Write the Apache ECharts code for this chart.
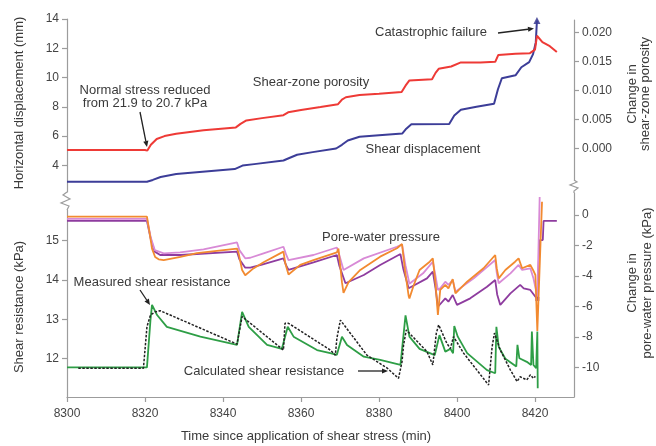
<!DOCTYPE html>
<html><head><meta charset="utf-8">
<script src="https://cdn.jsdelivr.net/npm/echarts@6/dist/echarts.min.js"></script>
<style>html,body{margin:0;padding:0;background:#fff}#c{width:656px;height:446px}</style>
</head><body><div id="c"></div>
<script>
// ---- tick labels ----
const timeTicks = [8300, 8320, 8340, 8360, 8380, 8400, 8420];
const dispTicks = [4, 6, 8, 10, 12, 14];
const porosityTicks = [0, 0.005, 0.010, 0.015, 0.020];
const shearTicks = [12, 13, 14, 15];
const poreTicks = [0, -2, -4, -6, -8, -10];

// ---- series values [time (min), value] ----
const shearDisplacement = [[8300,2.88],[8320.5,2.88],[8322,3.0],[8324,3.2],[8328,3.4],[8334,3.55],[8343,3.74],[8345,3.98],[8348,4.08],[8355.5,4.33],[8357,4.5],[8359,4.72],[8363,4.9],[8369,5.15],[8370.5,5.4],[8372,5.7],[8375,5.95],[8380,6.06],[8386,6.18],[8387,6.5],[8388.3,6.8],[8398,6.82],[8399.3,7.4],[8401,7.8],[8405,8.0],[8409.5,8.2],[8410.5,9.2],[8411.5,9.95],[8415,10.15],[8416.5,10.7],[8418.5,11.05],[8419.5,11.6],[8420.2,12.4],[8420.5,13.9]];

const porosity = [[8300,-0.0003],[8320,-0.0003],[8320.6,-0.0004],[8321.5,0.0006],[8323,0.0016],[8325,0.0021],[8328,0.0025],[8335,0.0031],[8343.3,0.0036],[8344.5,0.0042],[8346,0.0048],[8350,0.0052],[8355.5,0.0057],[8356.7,0.0062],[8360,0.0066],[8365,0.0071],[8369.5,0.0076],[8370.5,0.0084],[8371.5,0.0088],[8375,0.0092],[8380,0.0094],[8385.8,0.0097],[8386.8,0.0108],[8387.8,0.0117],[8393.6,0.0119],[8394.5,0.0130],[8395.3,0.0137],[8398.5,0.0141],[8401,0.0148],[8406,0.0148],[8409.8,0.0149],[8410.6,0.0161],[8415,0.0163],[8418.7,0.0164],[8420,0.0170],[8420.5,0.0194],[8421.9,0.0183],[8423.8,0.0176],[8425.6,0.0166]];

const poreOrange = [[8300,-0.11],[8320.5,-0.11],[8321.2,-1.2],[8321.8,-2.2],[8322.6,-2.75],[8323.5,-2.9],[8324.8,-2.95],[8329.1,-2.75],[8333.3,-2.5],[8343.6,-2.2],[8344.0,-2.5],[8344.9,-3.6],[8345.7,-3.95],[8346.2,-3.98],[8347.8,-3.5],[8350.4,-3.1],[8355.5,-2.4],[8356.0,-3.2],[8356.8,-3.9],[8359.8,-3.27],[8363.2,-2.95],[8369.2,-2.45],[8369.6,-2.2],[8370.5,-4.4],[8370.9,-5.1],[8372.2,-4.4],[8375.2,-3.6],[8380.3,-2.73],[8384.6,-2.18],[8385.9,-1.9],[8386.7,-3.7],[8387.6,-5.3],[8387.8,-5.46],[8388.9,-4.6],[8390.4,-3.6],[8393.0,-3.06],[8393.8,-2.84],[8394.5,-4.5],[8395.1,-6.55],[8395.7,-4.91],[8397.0,-4.58],[8397.8,-4.8],[8398.9,-4.2],[8399.6,-5.13],[8402.6,-4.37],[8406.8,-3.49],[8409.8,-2.62],[8410.2,-3.5],[8410.7,-4.15],[8412.4,-3.6],[8414.9,-3.06],[8415.8,-2.84],[8416.7,-3.49],[8418.8,-3.27],[8419.5,-3.6],[8420.1,-3.93],[8420.6,-7.6],[8421.8,0.87]];

const porePink = [[8300,-0.26],[8320.5,-0.26],[8321.5,-1.5],[8322.5,-2.3],[8324.8,-2.51],[8329,-2.45],[8335,-2.25],[8343.6,-1.8],[8344.2,-2.3],[8345.7,-2.84],[8347,-2.8],[8350.4,-2.51],[8355.5,-2.08],[8356.2,-2.6],[8356.8,-2.95],[8363.2,-2.62],[8369.2,-2.13],[8369.8,-2.6],[8370.9,-3.6],[8376.1,-2.84],[8384.6,-2.08],[8385.9,-1.93],[8386.8,-3.3],[8387.8,-4.5],[8391.3,-3.82],[8393.8,-3.06],[8394.5,-4.0],[8395.1,-4.91],[8395.7,-4.8],[8397.0,-4.37],[8397.8,-4.58],[8398.9,-4.26],[8399.6,-5.02],[8404.3,-4.15],[8409.8,-2.95],[8410.2,-3.8],[8410.7,-4.47],[8413.7,-3.82],[8415.8,-3.27],[8416.7,-3.6],[8418.8,-3.49],[8419.6,-4.15],[8420.1,-4.26],[8420.6,-5.35],[8421.2,1.18]];

const porePurple = [[8300,-0.39],[8320.5,-0.39],[8321.5,-1.6],[8322.5,-2.4],[8323.9,-2.62],[8329.1,-2.62],[8343.6,-2.4],[8344.2,-2.9],[8345.7,-3.45],[8347,-3.45],[8350,-3.25],[8355.5,-2.84],[8356.2,-3.3],[8356.8,-3.6],[8363.2,-3.10],[8369.2,-2.62],[8369.8,-3.3],[8371.4,-4.47],[8376.1,-3.93],[8380.3,-3.27],[8385.5,-2.56],[8386.2,-3.5],[8387.6,-4.8],[8387.8,-4.91],[8392.3,-4.15],[8393.8,-3.71],[8394.5,-4.8],[8395.1,-6.01],[8397.0,-5.46],[8397.8,-5.68],[8398.9,-5.24],[8400.0,-5.89],[8403.4,-5.46],[8407.7,-4.70],[8409.8,-4.26],[8410.3,-5.2],[8411.1,-5.89],[8413.7,-5.13],[8416.2,-4.58],[8417.1,-4.80],[8418.8,-4.91],[8420.1,-5.35],[8420.6,-5.5],[8421.2,-1.64],[8422.0,-1.64],[8422.2,-0.39],[8425.6,-0.39]];

const measuredShear = [[8300,11.78],[8320.5,11.78],[8321.4,12.98],[8321.8,13.37],[8323.1,13.11],[8325.6,12.81],[8334.2,12.56],[8343.6,12.35],[8344.0,12.32],[8344.9,13.19],[8346.6,12.81],[8351.3,12.35],[8355.1,12.25],[8355.5,12.22],[8356.6,12.81],[8358.1,12.56],[8364.1,12.22],[8367.5,12.14],[8369.2,12.1],[8370.5,12.56],[8371.8,12.35],[8376.1,12.05],[8380.3,11.97],[8385.5,11.84],[8386.8,13.1],[8387.8,12.56],[8390.4,12.25],[8394.3,12.09],[8395.5,12.6],[8397.0,12.18],[8398.3,12.25],[8399.0,12.14],[8399.3,12.83],[8400.2,12.56],[8402.6,12.14],[8407.7,11.71],[8409.8,11.63],[8410.1,12.81],[8410.7,12.3],[8412.4,12.0],[8415.2,11.8],[8415.5,12.35],[8416.0,12.01],[8417.9,11.92],[8419.0,11.84],[8419.2,12.69],[8419.6,11.84],[8420.3,11.76],[8420.6,12.69],[8420.7,11.25]];

const calculatedShear = [[8302.9,11.76],[8319.6,11.76],[8320.5,12.81],[8321.4,13.11],[8322.6,13.19],[8323.9,13.22],[8343.6,12.37],[8344.2,12.7],[8344.9,13.07],[8355.5,12.22],[8355.9,12.9],[8356.8,12.9],[8367.5,12.22],[8368.8,12.09],[8369.2,12.52],[8370.1,12.98],[8376.9,12.09],[8382.1,11.76],[8385.0,11.5],[8385.9,11.92],[8386.3,12.35],[8387.0,12.73],[8392.3,12.18],[8393.8,11.84],[8394.7,12.65],[8395.3,12.86],[8397.4,12.39],[8398.3,12.26],[8399.1,12.56],[8401.7,12.14],[8405.1,11.71],[8408.1,11.33],[8409.0,12.3],[8409.6,12.65],[8411.1,12.22],[8413.7,11.71],[8415.4,11.42],[8416.2,11.54],[8417.9,11.46],[8418.8,11.59],[8419.6,11.5],[8420.1,11.55]];

// ---- styles ----
const FONT = 'Liberation Sans, Arial, sans-serif';
const AX = '#9c9c9c';
const TXT = '#3a3a3a';
const L = 67, R = 82;

function yAx(grid, pos, min, max, ticks, fmt) {
  return {
    type: 'value', gridIndex: grid, position: pos, min: min, max: max,
    splitLine: {show: false},
    axisLine: {show: true, lineStyle: {color: AX, width: 1.2}},
    axisTick: {show: true, length: 5, lineStyle: {color: AX, width: 1.2}, customValues: ticks},
    axisLabel: {show: true, customValues: ticks, color: '#444', fontSize: 12, fontFamily: FONT, margin: 8, formatter: fmt}
  };
}
function xAx(grid, show) {
  return {
    type: 'value', gridIndex: grid, min: 8300, max: 8430, show: show,
    splitLine: {show: false},
    axisLine: {show: true, onZero: false, lineStyle: {color: AX, width: 1.2}},
    axisTick: {show: true, length: 5, lineStyle: {color: AX, width: 1.2}, customValues: timeTicks},
    axisLabel: {show: true, customValues: timeTicks, color: '#444', fontSize: 12, fontFamily: FONT, margin: 11, formatter: v => String(v)}
  };
}
function line(name, data, xi, yi, color, width, extra) {
  return Object.assign({
    name: name, type: 'line', xAxisIndex: xi, yAxisIndex: yi, data: data,
    showSymbol: false, symbol: 'none', smooth: false, animation: false,
    lineStyle: {color: color, width: width}, itemStyle: {color: color}
  }, extra || {});
}
function txt(x, y, s, opts) {
  return Object.assign({type: 'text', x: x, y: y, silent: true,
    style: Object.assign({text: s, fill: TXT, font: '13px ' + FONT, textAlign: 'center', textVerticalAlign: 'middle', align: 'center', verticalAlign: 'middle'}, (opts && opts.style) || {})},
    opts && opts.rotation !== undefined ? {rotation: opts.rotation} : {});
}
function arrow(x1, y1, x2, y2) {
  const a = Math.atan2(y2 - y1, x2 - x1), h = 6, w = 2.6;
  const bx = x2 - h * Math.cos(a), by = y2 - h * Math.sin(a);
  const px = -Math.sin(a) * w, py = Math.cos(a) * w;
  return [
    {type: 'line', silent: true, shape: {x1: x1, y1: y1, x2: bx, y2: by}, style: {stroke: '#222', lineWidth: 1.3}},
    {type: 'polygon', silent: true, shape: {points: [[x2, y2], [bx + px, by + py], [bx - px, by - py]]}, style: {fill: '#222'}}
  ];
}

const chart = echarts.init(document.getElementById('c'), null, {renderer: 'canvas'});
const graphics = [
  // axis breaks
  {type: 'polyline', silent: true, shape: {points: [[67,192],[63,195],[70,199],[61,203],[69,206],[67,210]]}, style: {stroke: AX, lineWidth: 1.2, fill: null}},
  {type: 'polyline', silent: true, shape: {points: [[574,180],[577,182],[570,185],[578,188],[574,191],[574,193]]}, style: {stroke: AX, lineWidth: 1.2, fill: null}},
  // axis names
  txt(19, 103, 'Horizontal displacement (mm)', {rotation: Math.PI / 2}),
  txt(19, 307, 'Shear resistance (kPa)', {rotation: Math.PI / 2}),
  txt(639, 94, 'Change in\nshear-zone porosity', {rotation: Math.PI / 2, style: {lineHeight: 13}}),
  txt(640, 283, 'Change in\npore-water pressure (kPa)', {rotation: Math.PI / 2, style: {lineHeight: 15}}),
  txt(306, 436, 'Time since application of shear stress (min)'),
  // annotations
  txt(145, 90, 'Normal stress reduced'),
  txt(145, 103.5, 'from 21.9 to 20.7 kPa'),
  txt(311, 82, 'Shear-zone porosity'),
  txt(423, 149, 'Shear displacement'),
  txt(431, 32, 'Catastrophic failure'),
  txt(381, 237, 'Pore-water pressure'),
  txt(152, 282, 'Measured shear resistance'),
  txt(264, 371, 'Calculated shear resistance')
].concat(arrow(140, 112, 147, 147), arrow(498, 33, 534, 28.5), arrow(140, 290, 150, 305), arrow(358, 371, 388, 371));

chart.setOption({
  animation: false,
  backgroundColor: '#fff',
  grid: [
    {left: L, right: R, top: 19, height: 173},
    {left: L, right: R, top: 20, height: 160},
    {left: L, right: R, top: 210, height: 187},
    {left: L, right: R, top: 193, height: 204}
  ],
  xAxis: [xAx(0, false), xAx(1, false), xAx(2, true), xAx(3, false)],
  yAxis: [
    yAx(0, 'left', 2.175, 14, dispTicks, v => String(v)),
    yAx(1, 'right', -0.00547, 0.02212, porosityTicks, v => v.toFixed(3)),
    yAx(2, 'left', 11.026, 15.78, shearTicks, v => String(v)),
    yAx(3, 'right', -11.92, 1.44, poreTicks, v => String(v))
  ],
  graphic: graphics,
  series: [
    line('Shear displacement', shearDisplacement, 0, 0, '#3c3d98', 2),
    {type: 'scatter', xAxisIndex: 0, yAxisIndex: 0, data: [shearDisplacement[shearDisplacement.length - 1]], symbol: 'triangle', symbolSize: 7, itemStyle: {color: '#2c2d88'}, animation: false},
    line('Shear-zone porosity', porosity, 1, 1, '#ee3a36', 2),
    line('Pore pressure 3', porePurple, 3, 3, '#8e3c9f', 1.8),
    line('Pore pressure 2', porePink, 3, 3, '#d88ad6', 1.8),
    line('Pore pressure 1', poreOrange, 3, 3, '#f28a30', 1.8),
    {type: 'scatter', xAxisIndex: 3, yAxisIndex: 3, data: [porePurple[porePurple.length - 5]], symbol: 'rect', symbolSize: 4, itemStyle: {color: '#6a1f7a'}, animation: false},
    line('Measured shear resistance', measuredShear, 2, 2, '#2e9e46', 1.8),
    line('Calculated shear resistance', calculatedShear, 2, 2, '#222', 1.5, {lineStyle: {color: '#222', width: 1.5, type: [2.5, 1.5]}})
  ]
});
</script>
</body></html>
